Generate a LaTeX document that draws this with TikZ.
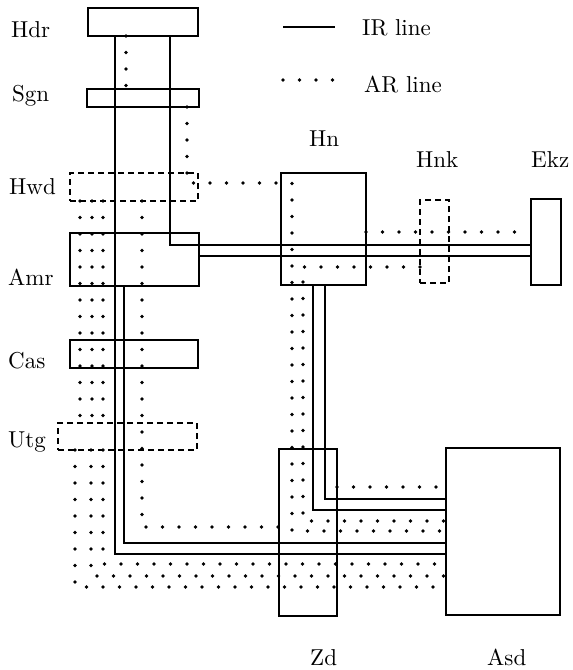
\documentclass[tikz,border=0pt]{standalone}
\usepackage{fontspec}
\newfontfamily\labelfont{lmroman10-regular.otf}
\usepackage{tikz}
\usetikzlibrary{arrows}
\begin{document}
\begin{tikzpicture}[
	x=1pt, y=-1pt,
	box style/.style={
		draw,
		line width=1.6pt,
		inner sep=0pt,
		outer sep=0pt
	},
	dashed box style/.style={box style, dash pattern=on 6pt off 4pt},
	ir line/.style={line width=1.6pt},
	ar line/.style={line width=3.6pt, line cap=round, dash pattern=on 0pt off 16.5pt},
	label style/.style={anchor=base west, inner sep=0pt, font=\labelfont\fontsize{23}{28}\selectfont}
	]
	\useasboundingbox (0,0) rectangle (573,670);
	
	\node[box style, minimum width=110pt, minimum height=28pt] (Hdr) at (143,22) {};
	\node[box style, minimum width=112pt, minimum height=18pt] (Sgn) at (143,98) {};
	\node[dashed box style, minimum width=128pt, minimum height=28pt] (Hwd) at (134,187) {};
	\node[box style, minimum width=129pt, minimum height=53pt] (Amr) at (134.5,259.5) {};
	\node[box style, minimum width=128pt, minimum height=28pt] (Cas) at (134,354) {};
	\node[dashed box style, minimum width=139pt, minimum height=27pt] (Utg) at (127.5,436.5) {};
	\node[box style, minimum width=85pt, minimum height=112pt] (Hn) at (323.5,229) {};
	\node[dashed box style, minimum width=29pt, minimum height=83pt] (Hnk) at (434.5,241.5) {};
	\node[box style, minimum width=30pt, minimum height=86pt] (Ekz) at (546,242) {};
	\node[box style, minimum width=58pt, minimum height=167pt] (Zd) at (308,532.5) {};
	\node[box style, minimum width=114pt, minimum height=167pt] (Asd) at (503,531.5) {};
	
	\node[label style] (Hdr label) at (11,37) {Hdr};
	\node[label style] (Sgn label) at (12,101) {Sgn};
	\node[label style] (Hwd label) at (9,194) {Hwd};
	\node[label style] (Amr label) at (8,285) {Amr};
	\node[label style] (Cas label) at (8,368) {Cas};
	\node[label style] (Utg label) at (8,447) {Utg};
	\node[label style] (Hn label) at (309,146) {Hn};
	\node[label style] (Hnk label) at (416,167) {Hnk};
	\node[label style] (Ekz label) at (531,167) {Ekz};
	\node[label style] (Zd label) at (310,665) {Zd};
	\node[label style] (Asd label) at (487,665) {Asd};
	
	\coordinate (ir start) at (283,27);
	\coordinate (ir end) at (335,27);
	\coordinate (ar start) at (283,80);
	\coordinate (ar end) at (333,80);
	\draw[ir line] (ir start) -- (ir end);
	\draw[ar line] (ar start) -- (ar end);
	\node[label style] (ir text) at (362,35) {IR line};
	\node[label style] (ar text) at (364,92) {AR line};
	
	\draw[ir line] (Hdr.south -| 115,0) -- (115,554) -- (Asd.west |- 0,554);
	\draw[ir line] (Amr.south -| 124,0) -- (124,543) -- (Asd.west |- 0,543);
	\draw[ir line] (Hdr.south -| 170,0) -- (170,245) -- (Ekz.west |- 0,245);
	\draw[ir line] (Amr.east |- 0,256) -- (Ekz.west |- 0,256);
	\draw[ir line] (Hn.south -| 313,0) -- (313,510) -- (Asd.west |- 0,510);
	\draw[ir line] (Hn.south -| 325,0) -- (325,499) -- (Asd.west |- 0,499);
	
	\draw[ar line] (Hdr.south -| 126,0) -- (Sgn.north -| 126,0);
	\draw[ar line] (Sgn.south -| 187,0) -- (187,183) -- (292,183) -- (292,531) -- (Asd.west |- 0,531);
	\draw[ar line] (Hnk.west |- 0,267) -- (303,267) -- (303,521) -- (Asd.west |- 0,521);
	\draw[ar line] (Hn.east |- 0,232) -- (Ekz.west |- 0,232);
	\draw[ar line] (Zd.east |- 0,487) -- (Asd.west |- 0,487);
	\draw[ar line] (Hwd.south -| 142,0) -- (142,527) -- (Zd.west |- 0,527);
	\foreach \cx in {80,92,103}
		\draw[ar line] (Hwd.south -| \cx,0) -- (Utg.north -| \cx,0);
	\foreach \cx/\cy in {75/587,91/576,103/564}
		\draw[ar line] (Utg.south -| \cx,0) -- (\cx,\cy) -- (Asd.west |- 0,\cy);
	
\end{tikzpicture}
\end{document}
